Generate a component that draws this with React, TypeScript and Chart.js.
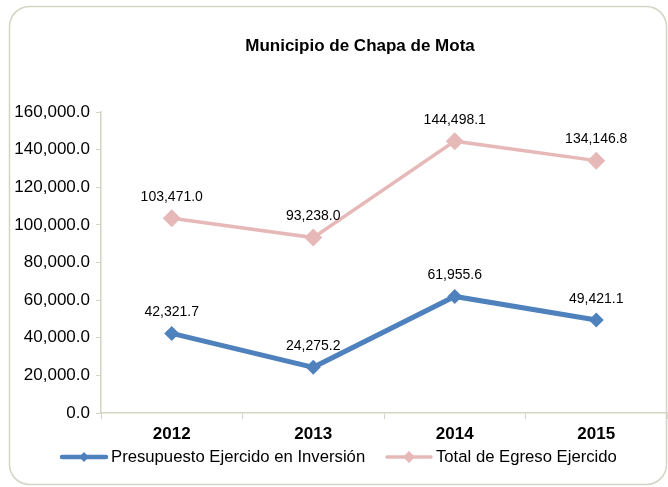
import React, { useEffect, useRef } from "react";
import { Chart, registerables } from "chart.js";

Chart.register(...registerables);

const titleText = "Municipio de Chapa de Mota";
const categories = ["2012", "2013", "2014", "2015"];
const seriesNames = ["Presupuesto Ejercido en Inversión", "Total de Egreso Ejercido"];
const inversion = [42321.7, 24275.2, 61955.6, 49421.1];
const egreso = [103471.0, 93238.0, 144498.1, 134146.8];
const yMin = 0;
const yMax = 160000;
const yStep = 20000;

const BLUE = "#4f81bd";
const PINK = "#e6b9b8";
const AXIS = "#d4d4c4";
const FONT = "'Liberation Sans', Arial, sans-serif";

const fmt = (v: number) =>
  v.toLocaleString("en-US", { minimumFractionDigits: 1, maximumFractionDigits: 1 });

const framePlugin = {
  id: "frame",
  beforeDraw(chart: any) {
    const ctx = chart.ctx;
    ctx.save();
    ctx.fillStyle = "#ffffff";
    ctx.fillRect(0, 0, chart.width, chart.height);
    const x = 9.5, y = 6.5, w = 657, h = 478, r = 20;
    ctx.beginPath();
    ctx.moveTo(x + r, y);
    ctx.lineTo(x + w - r, y);
    ctx.arcTo(x + w, y, x + w, y + r, r);
    ctx.lineTo(x + w, y + h - r);
    ctx.arcTo(x + w, y + h, x + w - r, y + h, r);
    ctx.lineTo(x + r, y + h);
    ctx.arcTo(x, y + h, x, y + h - r, r);
    ctx.lineTo(x, y + r);
    ctx.arcTo(x, y, x + r, y, r);
    ctx.closePath();
    ctx.strokeStyle = AXIS;
    ctx.lineWidth = 1.5;
    ctx.stroke();
    // title
    ctx.fillStyle = "#000000";
    ctx.font = `bold 17px ${FONT}`;
    ctx.textAlign = "center";
    ctx.textBaseline = "middle";
    ctx.fillText(titleText, 360, 46);
    ctx.restore();
  },
};

const labelPlugin = {
  id: "pointLabels",
  afterDatasetsDraw(chart: any) {
    const ctx = chart.ctx;
    ctx.save();
    ctx.fillStyle = "#000000";
    ctx.font = `14px ${FONT}`;
    ctx.textAlign = "center";
    ctx.textBaseline = "middle";
    chart.data.datasets.forEach((ds: any, i: number) => {
      const meta = chart.getDatasetMeta(i);
      meta.data.forEach((pt: any, j: number) => {
        ctx.fillText(fmt(ds.data[j]), pt.x, pt.y - 21);
      });
    });
    ctx.restore();
  },
};

const legendPlugin = {
  id: "customLegend",
  afterDraw(chart: any) {
    const ctx = chart.ctx;
    const items = [
      { x: 62, color: BLUE, lw: 4.5, r: 5 },
      { x: 387, color: PINK, lw: 3.5, r: 6 },
    ];
    const y = 457;
    ctx.save();
    items.forEach((it, i) => {
      ctx.strokeStyle = it.color;
      ctx.lineWidth = it.lw;
      ctx.lineCap = "round";
      ctx.beginPath();
      ctx.moveTo(it.x, y);
      ctx.lineTo(it.x + 44, y);
      ctx.stroke();
      ctx.fillStyle = it.color;
      const cx = it.x + 22;
      ctx.beginPath();
      ctx.moveTo(cx, y - it.r);
      ctx.lineTo(cx + it.r, y);
      ctx.lineTo(cx, y + it.r);
      ctx.lineTo(cx - it.r, y);
      ctx.closePath();
      ctx.fill();
      ctx.fillStyle = "#000000";
      ctx.font = `16.7px ${FONT}`;
      ctx.textAlign = "left";
      ctx.textBaseline = "middle";
      ctx.fillText(seriesNames[i], it.x + 49, y);
    });
    ctx.restore();
  },
};

export default function App() {
  const ref = useRef<HTMLCanvasElement>(null);

  useEffect(() => {
    if (!ref.current) return;
    const chart = new Chart(ref.current, {
      type: "line",
      data: {
        labels: categories,
        datasets: [
          {
            label: seriesNames[0],
            data: inversion,
            borderColor: BLUE,
            backgroundColor: BLUE,
            borderWidth: 5,
            pointStyle: "rectRot",
            pointRadius: 7.5,
            pointBorderWidth: 0,
            pointBackgroundColor: BLUE,
            tension: 0,
          },
          {
            label: seriesNames[1],
            data: egreso,
            borderColor: PINK,
            backgroundColor: PINK,
            borderWidth: 3.5,
            pointStyle: "rectRot",
            pointRadius: 9,
            pointBorderWidth: 0,
            pointBackgroundColor: PINK,
            tension: 0,
          },
        ],
      },
      options: {
        responsive: false,
        animation: false,
        layout: { autoPadding: false, padding: { left: 0, right: 1, top: 112, bottom: 0 } },
        plugins: {
          legend: { display: false },
          title: { display: false },
          tooltip: { enabled: false },
        },
        scales: {
          x: {
            type: "category",
            offset: true,
            grid: {
              display: true,
              offset: true,
              drawOnChartArea: false,
              drawTicks: true,
              tickLength: 6,
              color: AXIS,
            },
            border: { display: true, color: AXIS, width: 1.5 },
            ticks: {
              color: "#000000",
              font: { family: FONT, size: 17, weight: "bold" },
              padding: 5,
            },
            afterFit(scale: any) {
              scale.height = 74;
              scale.paddingLeft = 0;
              scale.paddingRight = 0;
            },
          },
          y: {
            min: yMin,
            max: yMax,
            grid: {
              display: true,
              drawOnChartArea: false,
              drawTicks: true,
              tickLength: 5,
              color: AXIS,
            },
            border: { display: true, color: AXIS, width: 1.5 },
            ticks: {
              stepSize: yStep,
              color: "#000000",
              font: { family: FONT, size: 17 },
              padding: 6,
              callback: (v: any) => fmt(Number(v)),
            },
            afterFit(scale: any) {
              scale.width = 101;
              scale.paddingTop = 0;
              scale.paddingBottom = 0;
            },
          },
        },
      },
      plugins: [framePlugin, labelPlugin, legendPlugin],
    });
    return () => chart.destroy();
  }, []);

  return (
    <div style={{ position: "absolute", left: 0, top: 0, width: 668, height: 487 }}>
      <canvas ref={ref} width={668} height={487} style={{ display: "block" }} />
    </div>
  );
}
